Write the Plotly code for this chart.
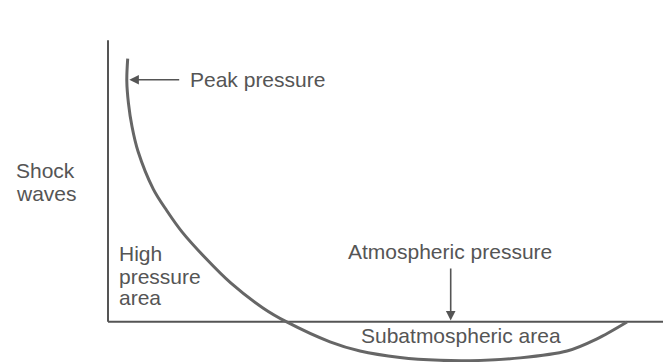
import plotly.graph_objects as go

# Pressure wave profile (x: time after blast, y: pressure relative to atmospheric)
wave_t = [19.7, 18.8, 20.5, 24, 30, 45.3, 58.7, 74, 97, 123, 155.3,
          178.7, 222, 252, 292, 332, 362, 412, 459, 489, 519]
wave_p = [287, 263, 238, 213, 186, 144.7, 121.3, 98, 70, 42, 14.7,
          -0.3, -22, -32, -39, -42.2, -42.6, -39.5, -32, -18.7, -0.3]

# Axis extents
time_axis_end = 555
pressure_axis_top = 307

# Callout positions
peak_arrow = dict(tip=(21.3, 264), tail=(72.7, 264))
atm_arrow = dict(tip=(342.7, 1.3), tail=(342.7, 59.7))

labels = [
    ("Peak pressure", 80.3, 264.7),
    ("Shock", -94, 164.7),
    ("waves", -94, 139.7),
    ("High", 9.3, 74),
    ("pressure", 9.3, 49.7),
    ("area", 9.3, 26.3),
    ("Atmospheric pressure", 238, 76.3),
    ("Subatmospheric area", 251.3, -15.3),
]

TEXT = "#555555"
AXIS = "#555555"
CURVE = "#666666"
FONT = "Liberation Sans, Arial, sans-serif"

fig = go.Figure()

# axes drawn as plain lines
fig.add_trace(go.Scatter(x=[0, 0], y=[pressure_axis_top, 0], mode="lines",
                         line=dict(color=AXIS, width=2), hoverinfo="skip"))
fig.add_trace(go.Scatter(x=[0, time_axis_end], y=[0, 0], mode="lines",
                         line=dict(color=AXIS, width=2), hoverinfo="skip"))

# the wave itself
fig.add_trace(go.Scatter(x=wave_t, y=wave_p, mode="lines",
                         line=dict(color=CURVE, width=3, shape="spline", smoothing=0.9),
                         hoverinfo="skip"))

annotations = []
for text, x, y in labels:
    annotations.append(dict(text=text, x=x, y=y, xref="x", yref="y",
                            xanchor="left", yanchor="middle", showarrow=False,
                            font=dict(family=FONT, size=21, color=TEXT)))

for arr in (peak_arrow, atm_arrow):
    annotations.append(dict(text="", x=arr["tip"][0], y=arr["tip"][1],
                            ax=arr["tail"][0], ay=arr["tail"][1],
                            xref="x", yref="y", axref="x", ayref="y",
                            showarrow=True, arrowhead=2, arrowsize=1.2,
                            arrowwidth=1.6, arrowcolor=TEXT, standoff=0))

fig.update_layout(
    width=663, height=362,
    margin=dict(l=0, r=0, t=0, b=0),
    paper_bgcolor="white", plot_bgcolor="white",
    showlegend=False,
    xaxis=dict(range=[-108, 555], visible=False, fixedrange=True),
    yaxis=dict(range=[-44, 351], visible=False, fixedrange=True),
    annotations=annotations,
)

fig.write_html("out.html")
